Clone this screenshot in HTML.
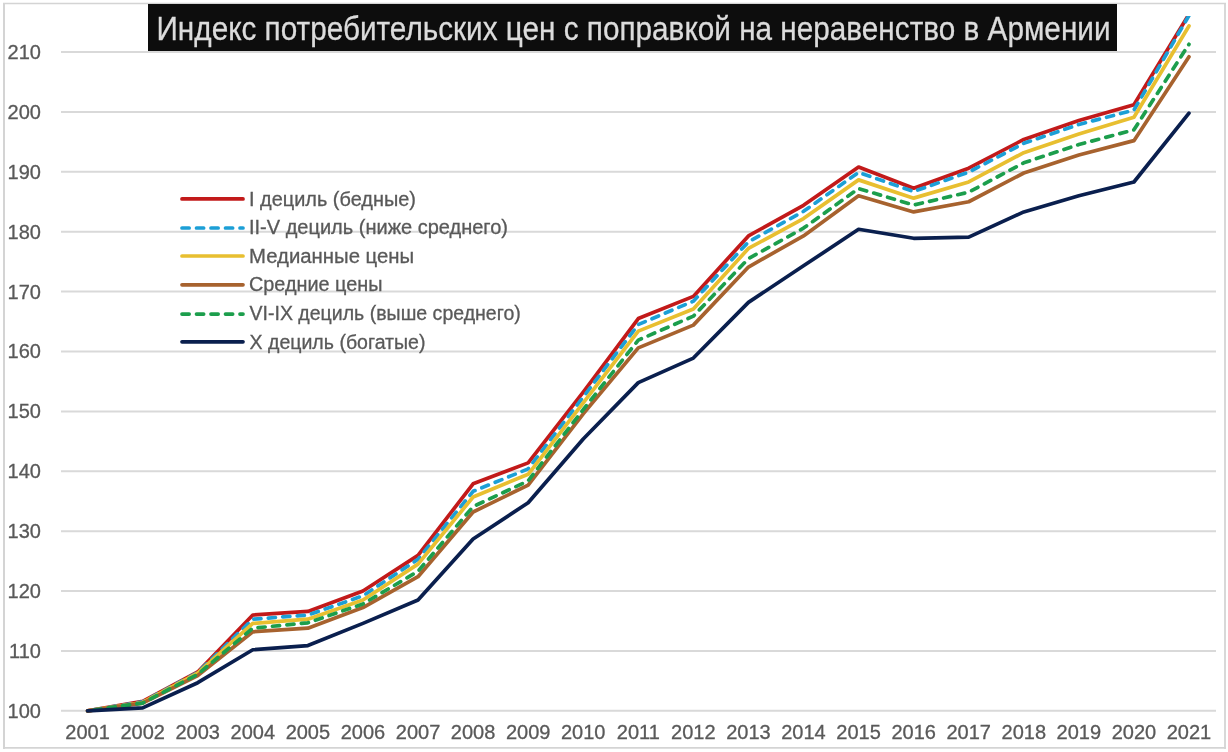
<!DOCTYPE html>
<html><head><meta charset="utf-8"><style>
html,body{margin:0;padding:0;background:#fff;}
body{width:1228px;height:752px;overflow:hidden;}
svg{display:block;will-change:transform;}
text{font-family:"Liberation Sans",sans-serif;}
</style></head><body>
<svg width="1228" height="752" viewBox="0 0 1228 752">
<defs><clipPath id="pa"><rect x="0" y="16" width="1228" height="736"/></clipPath></defs>
<rect x="0" y="0" width="1228" height="752" fill="#fff"/>
<g stroke="#d4d4d4" fill="none">
<line x1="3" y1="3.5" x2="1226" y2="3.5" stroke-width="1.3"/>
<line x1="4" y1="3" x2="4" y2="749" stroke-width="2"/>
<line x1="1225" y1="3" x2="1225" y2="749" stroke-width="1.8"/>
<line x1="3" y1="747.9" x2="1226" y2="747.9" stroke-width="1.9"/>
</g>
<g stroke="#d9d9d9" stroke-width="2">
<line x1="61" y1="710.85" x2="1216" y2="710.85"/>
<line x1="61" y1="650.96" x2="1216" y2="650.96"/>
<line x1="61" y1="591.06" x2="1216" y2="591.06"/>
<line x1="61" y1="531.16" x2="1216" y2="531.16"/>
<line x1="61" y1="471.27" x2="1216" y2="471.27"/>
<line x1="61" y1="411.38" x2="1216" y2="411.38"/>
<line x1="61" y1="351.48" x2="1216" y2="351.48"/>
<line x1="61" y1="291.59" x2="1216" y2="291.59"/>
<line x1="61" y1="231.69" x2="1216" y2="231.69"/>
<line x1="61" y1="171.80" x2="1216" y2="171.80"/>
<line x1="61" y1="111.90" x2="1216" y2="111.90"/>
<line x1="61" y1="52.01" x2="1216" y2="52.01"/>
</g>
<g font-size="20" fill="#595959" stroke="#595959" stroke-width="0.3" text-anchor="end">
<text x="40.9" y="717.85">100</text>
<text x="40.9" y="657.96">110</text>
<text x="40.9" y="598.06">120</text>
<text x="40.9" y="538.16">130</text>
<text x="40.9" y="478.27">140</text>
<text x="40.9" y="418.38">150</text>
<text x="40.9" y="358.48">160</text>
<text x="40.9" y="298.59">170</text>
<text x="40.9" y="238.69">180</text>
<text x="40.9" y="178.80">190</text>
<text x="40.9" y="118.90">200</text>
<text x="40.9" y="59.01">210</text>
</g>
<g font-size="20" fill="#595959" stroke="#595959" stroke-width="0.3" text-anchor="middle">
<text x="87.60" y="739">2001</text>
<text x="142.67" y="739">2002</text>
<text x="197.74" y="739">2003</text>
<text x="252.81" y="739">2004</text>
<text x="307.88" y="739">2005</text>
<text x="362.95" y="739">2006</text>
<text x="418.02" y="739">2007</text>
<text x="473.09" y="739">2008</text>
<text x="528.16" y="739">2009</text>
<text x="583.23" y="739">2010</text>
<text x="638.30" y="739">2011</text>
<text x="693.37" y="739">2012</text>
<text x="748.44" y="739">2013</text>
<text x="803.51" y="739">2014</text>
<text x="858.58" y="739">2015</text>
<text x="913.65" y="739">2016</text>
<text x="968.72" y="739">2017</text>
<text x="1023.79" y="739">2018</text>
<text x="1078.86" y="739">2019</text>
<text x="1133.93" y="739">2020</text>
<text x="1189.00" y="739">2021</text>
</g>
<g clip-path="url(#pa)" fill="none" stroke-width="3.7" stroke-linecap="round" stroke-linejoin="round">
<polyline points="87.60,710.85 142.67,701.27 197.74,671.92 252.81,615.02 307.88,611.42 362.95,591.06 418.02,555.42 473.09,483.85 528.16,462.88 583.23,392.21 638.30,318.54 693.37,296.38 748.44,235.88 803.51,205.34 858.58,167.00 913.65,188.27 968.72,168.20 1023.79,139.45 1078.86,120.58 1133.93,104.71 1189.00,14.27" stroke="#c21a1a"/>
<polyline points="87.60,710.85 142.67,701.87 197.74,672.52 252.81,619.21 307.88,615.02 362.95,595.85 418.02,559.32 473.09,491.33 528.16,468.87 583.23,397.00 638.30,324.53 693.37,301.17 748.44,241.87 803.51,211.33 858.58,172.39 913.65,191.56 968.72,172.09 1023.79,143.34 1078.86,124.48 1133.93,110.10 1189.00,15.47" stroke="#1c9fd6" stroke-dasharray="7.15 7.35" stroke-dashoffset="7.13"/>
<polyline points="87.60,710.85 142.67,702.46 197.74,673.12 252.81,623.40 307.88,619.21 362.95,600.04 418.02,564.11 473.09,497.02 528.16,474.26 583.23,402.99 638.30,331.12 693.37,308.95 748.44,248.46 803.51,218.51 858.58,179.88 913.65,198.15 968.72,181.98 1023.79,152.63 1078.86,134.06 1133.93,117.29 1189.00,25.95" stroke="#e8bf30"/>
<polyline points="87.60,710.85 142.67,703.06 197.74,675.51 252.81,631.79 307.88,628.19 362.95,607.53 418.02,576.69 473.09,512.00 528.16,485.05 583.23,413.77 638.30,347.89 693.37,325.13 748.44,267.03 803.51,235.88 858.58,195.75 913.65,211.92 968.72,201.74 1023.79,172.99 1078.86,155.02 1133.93,140.65 1189.00,56.80" stroke="#a7622e"/>
<polyline points="87.60,710.85 142.67,703.06 197.74,674.31 252.81,628.19 307.88,622.80 362.95,603.94 418.02,571.29 473.09,506.61 528.16,480.85 583.23,409.58 638.30,340.10 693.37,316.14 748.44,258.64 803.51,228.10 858.58,188.57 913.65,205.04 968.72,192.16 1023.79,162.81 1078.86,144.54 1133.93,129.87 1189.00,44.22" stroke="#1c9e4c" stroke-dasharray="7.15 7.35" stroke-dashoffset="8.18"/>
<polyline points="87.60,710.85 142.67,707.86 197.74,682.70 252.81,649.76 307.88,645.56 362.95,623.40 418.02,600.04 473.09,538.95 528.16,502.71 583.23,438.93 638.30,382.63 693.37,358.07 748.44,302.37 803.51,265.83 858.58,229.29 913.65,238.28 968.72,237.08 1023.79,211.92 1078.86,195.75 1133.93,181.98 1189.00,113.10" stroke="#0a1f4e"/>
</g>
<g stroke-width="3.7" stroke-linecap="round" fill="#595959" font-size="20">
<line x1="182" y1="198.90" x2="243" y2="198.90" stroke="#c21a1a"/>
<text x="249" y="205.80" textLength="167" lengthAdjust="spacingAndGlyphs" stroke="#595959" stroke-width="0.3">I дециль (бедные)</text>
<line x1="182" y1="228.00" x2="243" y2="228.00" stroke="#1c9fd6" stroke-dasharray="7.15 7.35"/>
<text x="249" y="234.35" textLength="259" lengthAdjust="spacingAndGlyphs" stroke="#595959" stroke-width="0.3">II-V дециль (ниже среднего)</text>
<line x1="182" y1="256.00" x2="243" y2="256.00" stroke="#e8bf30"/>
<text x="249" y="262.90" textLength="165.2" lengthAdjust="spacingAndGlyphs" stroke="#595959" stroke-width="0.3">Медианные цены</text>
<line x1="182" y1="284.80" x2="243" y2="284.80" stroke="#a7622e"/>
<text x="249" y="291.45" textLength="133.5" lengthAdjust="spacingAndGlyphs" stroke="#595959" stroke-width="0.3">Средние цены</text>
<line x1="182" y1="314.10" x2="243" y2="314.10" stroke="#1c9e4c" stroke-dasharray="7.15 7.35"/>
<text x="249.5" y="320.00" textLength="271.3" lengthAdjust="spacingAndGlyphs" stroke="#595959" stroke-width="0.3">VI-IX дециль (выше среднего)</text>
<line x1="182" y1="341.80" x2="243" y2="341.80" stroke="#0a1f4e"/>
<text x="249.5" y="348.55" textLength="176" lengthAdjust="spacingAndGlyphs" stroke="#595959" stroke-width="0.3">X дециль (богатые)</text>
</g>
<rect x="148" y="4" width="969" height="47" fill="#0d0d0d"/>
<text x="156.5" y="39.8" font-size="34" fill="#dcdcdc" stroke="#dcdcdc" stroke-width="0.3" textLength="954" lengthAdjust="spacingAndGlyphs">Индекс потребительских цен с поправкой на неравенство в Армении</text>
</svg>
</body></html>
